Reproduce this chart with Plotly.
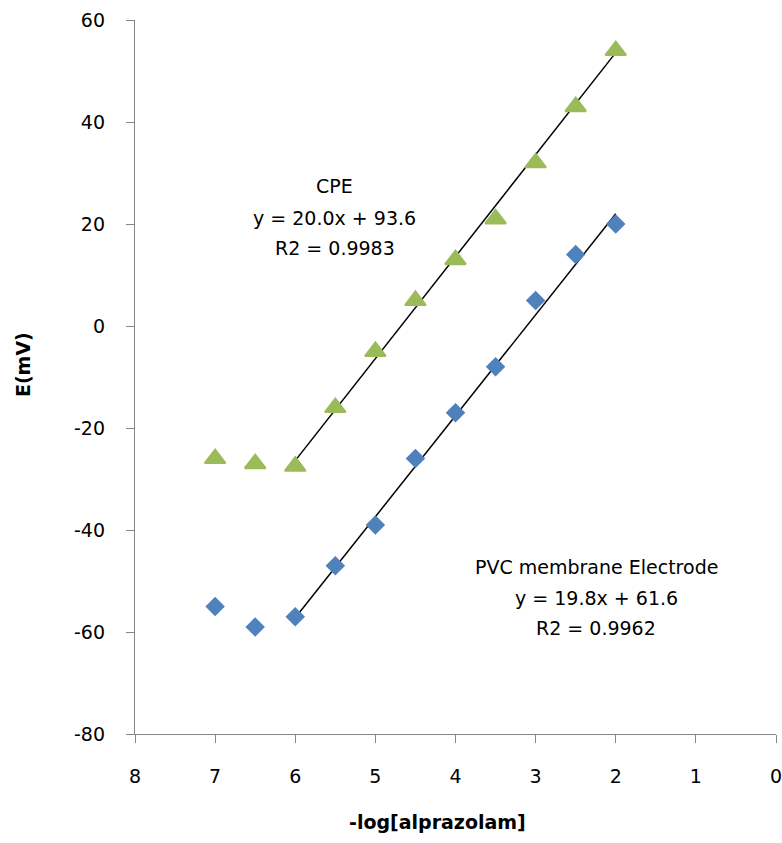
import plotly.graph_objects as go

# Data
x_vals = [7, 6.5, 6, 5.5, 5, 4.5, 4, 3.5, 3, 2.5, 2]
cpe_vals = [-26, -27, -27.5, -16, -5, 5, 13, 21, 32, 43, 54]
pvc_vals = [-55, -59, -57, -47, -39, -26, -17, -8, 5, 14, 20]

# Linear fits (in log units, x axis shows -log)
fit_x_range = [6, 2]
cpe_fit = {"slope": 20.0, "intercept": 93.6, "r2": 0.9983}
pvc_fit = {"slope": 19.8, "intercept": 61.6, "r2": 0.9962}

x_ticks = [8, 7, 6, 5, 4, 3, 2, 1, 0]
y_ticks = [60, 40, 20, 0, -20, -40, -60, -80]

FONT = "DejaVu Sans"
FS = 19
GREEN = "#9BBB59"
BLUE = "#4F81BD"
AXIS = "#868686"

W, H = 782, 843
ML, MR, MT, MB = 135, 0, 20, 109


def line_y(fit, xs):
    return [fit["slope"] * (-x) + fit["intercept"] for x in xs]


def px_to_paper(px, py):
    pw = W - ML - MR
    ph = H - MT - MB
    return (px - ML) / pw, (H - MB - py) / ph


fig = go.Figure()

fig.add_trace(go.Scatter(
    x=fit_x_range, y=line_y(cpe_fit, fit_x_range), mode="lines",
    line=dict(color="black", width=1.5), showlegend=False, hoverinfo="skip"))
fig.add_trace(go.Scatter(
    x=fit_x_range, y=line_y(pvc_fit, fit_x_range), mode="lines",
    line=dict(color="black", width=1.5), showlegend=False, hoverinfo="skip"))

fig.add_trace(go.Scatter(
    x=x_vals, y=cpe_vals, mode="markers", name="CPE",
    marker=dict(symbol="triangle-up", size=18, color=GREEN,
                line=dict(color=GREEN, width=2)),
    showlegend=False))
fig.add_trace(go.Scatter(
    x=x_vals, y=pvc_vals, mode="markers", name="PVC",
    marker=dict(symbol="diamond", size=15, color=BLUE,
                line=dict(width=0)),
    showlegend=False))

cpe_lines = ["CPE",
             f"y = {cpe_fit['slope']:.1f}x + {cpe_fit['intercept']:.1f}",
             f"R2 = {cpe_fit['r2']:.4f}"]
cpe_pos = [(5.508, 27.4), (5.508, 21.2), (5.508, 15.3)]
pvc_lines = ["PVC membrane Electrode",
             f"y = {pvc_fit['slope']:.1f}x + {pvc_fit['intercept']:.1f}",
             f"R2 = {pvc_fit['r2']:.4f}"]
pvc_pos = [(2.243, -47.2), (2.243, -53.4), (2.243, -59.2)]

for txt, (ax, ay) in list(zip(cpe_lines, cpe_pos)) + list(zip(pvc_lines, pvc_pos)):
    fig.add_annotation(
        x=ax, y=ay, xref="x", yref="y", text=txt,
        showarrow=False, align="center", xanchor="center", yanchor="middle",
        font=dict(family=FONT, size=FS, color="black"))

# Axis titles
tx, ty = px_to_paper(440, 822)
fig.add_annotation(
    x=tx, y=ty, xref="paper", yref="paper",
    text="<b>-log[alprazolam]</b>", showarrow=False,
    xanchor="center", yanchor="middle",
    font=dict(family=FONT, size=FS, color="black"))
tx, ty = px_to_paper(22, 365)
fig.add_annotation(
    x=tx, y=ty, xref="paper", yref="paper",
    text="<b>E(mV)</b>", showarrow=False, textangle=-90,
    xanchor="center", yanchor="middle",
    font=dict(family=FONT, size=FS, color="black"))

fig.update_xaxes(
    range=[8, 0], tickvals=x_ticks, ticktext=[str(t) for t in x_ticks],
    showgrid=False, zeroline=False, showline=True, linecolor=AXIS, linewidth=1.3,
    ticks="outside", ticklen=8, tickcolor=AXIS, tickwidth=1.3,
    ticklabelstandoff=17, ticklabeloverflow="allow",
    tickfont=dict(family=FONT, size=FS, color="black"))
fig.update_yaxes(
    range=[-80, 60], tickvals=y_ticks, ticktext=[str(t) for t in y_ticks],
    showgrid=False, zeroline=False, showline=True, linecolor=AXIS, linewidth=1.3,
    ticks="outside", ticklen=8, tickcolor=AXIS, tickwidth=1.3,
    ticklabelstandoff=17,
    tickfont=dict(family=FONT, size=FS, color="black"))

fig.update_layout(
    width=W, height=H,
    margin=dict(l=ML, r=MR, t=MT, b=MB),
    plot_bgcolor="white", paper_bgcolor="white",
    showlegend=False)

fig.write_html(
    "out.html",
    config={"displayModeBar": False},
    post_script="document.body.style.margin='0';document.body.style.overflow='hidden';")
